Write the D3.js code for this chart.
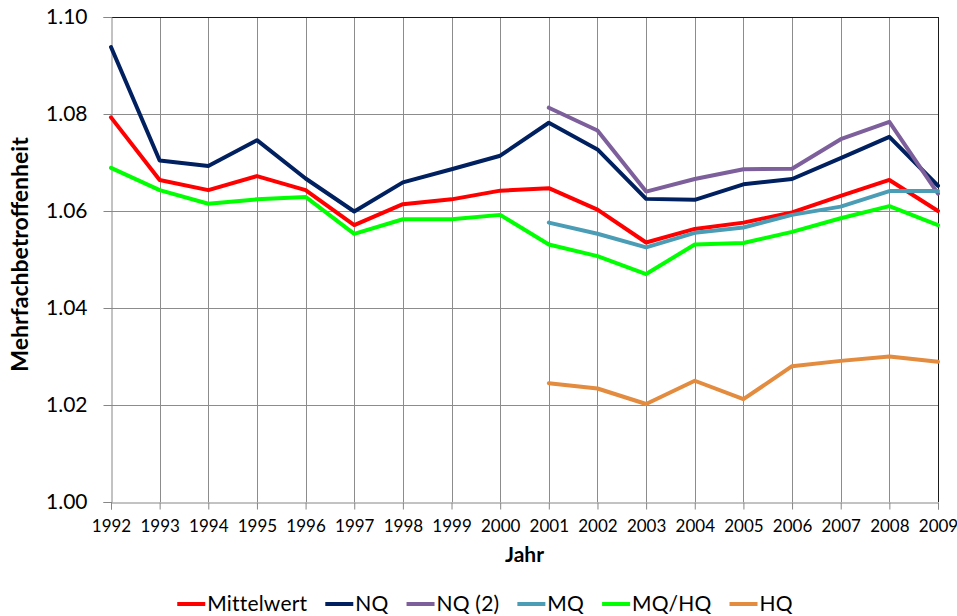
<!DOCTYPE html>
<html>
<head>
<meta charset="utf-8">
<script src="https://cdn.jsdelivr.net/npm/d3@7"></script>
<style>
  html, body { margin: 0; padding: 0; background: #ffffff; }
  svg { display: block; }
  text { font-family: "Lato", "Open Sans", sans-serif; fill: #000; }
</style>
</head>
<body>
<svg id="chart" width="957" height="616"></svg>
<script>
const years = [1992,1993,1994,1995,1996,1997,1998,1999,2000,2001,2002,2003,2004,2005,2006,2007,2008,2009];
const yTicks = [1.00, 1.02, 1.04, 1.06, 1.08, 1.10];
const seriesNames = ["Mittelwert", "NQ", "NQ (2)", "MQ", "MQ/HQ", "HQ"];
const seriesColors = ["#ff0000", "#002060", "#7d5f9b", "#4b9db6", "#00ff00", "#e38b3f"];

const mittelwert = [1.0793,1.0664,1.0643,1.0672,1.0643,1.0571,1.0614,1.0624,1.0642,1.0647,1.0603,1.0535,1.0563,1.0576,1.0597,1.0631,1.0664,1.0600];
const nq = [1.0938,1.0704,1.0693,1.0746,1.0667,1.0599,1.0659,1.0686,1.0714,1.0782,1.0727,1.0625,1.0623,1.0655,1.0666,1.0709,1.0753,1.0652];
const nq2 = [null,null,null,null,null,null,null,null,null,1.0813,1.0766,1.0640,1.0666,1.0686,1.0687,1.0748,1.0784,1.0636];
const mq = [null,null,null,null,null,null,null,null,null,1.0576,1.0553,1.0525,1.0555,1.0566,1.0592,1.0609,1.0641,1.0641];
const mqhq = [1.0689,1.0643,1.0615,1.0624,1.0629,1.0553,1.0583,1.0583,1.0592,1.0531,1.0507,1.0470,1.0531,1.0534,1.0557,1.0585,1.0610,1.0571];
const hq = [null,null,null,null,null,null,null,null,null,1.0245,1.0234,1.0202,1.0250,1.0212,1.0280,1.0291,1.0300,1.0289];

const seriesValues = [mittelwert, nq, nq2, mq, mqhq, hq];

const svg = d3.select("#chart");
const pLeft = 111, pRight = 938, pTop = 17, pBottom = 502;

const x = d3.scaleLinear().domain([years[0], years[years.length - 1]]).range([pLeft, pRight]);
const y = d3.scaleLinear().domain([1.00, 1.10]).range([pBottom, pTop]);

const gridColor = "#8c8c8c";

// horizontal gridlines
svg.append("g").selectAll("line").data(yTicks.slice(1, -1)).join("line")
  .attr("x1", pLeft).attr("x2", pRight)
  .attr("y1", d => Math.round(y(d)) + 0.5).attr("y2", d => Math.round(y(d)) + 0.5)
  .attr("stroke", gridColor).attr("stroke-width", 1);

// vertical gridlines
svg.append("g").selectAll("line").data(years.slice(1, -1)).join("line")
  .attr("x1", d => Math.round(x(d)) + 0.5).attr("x2", d => Math.round(x(d)) + 0.5)
  .attr("y1", pTop).attr("y2", pBottom)
  .attr("stroke", gridColor).attr("stroke-width", 1);

// top and right borders
svg.append("line").attr("x1", pLeft).attr("x2", pRight + 0.5).attr("y1", pTop + 0.5).attr("y2", pTop + 0.5)
  .attr("stroke", "#1a1a1a").attr("stroke-width", 1);
svg.append("line").attr("x1", pRight + 0.5).attr("x2", pRight + 0.5).attr("y1", pTop).attr("y2", pBottom)
  .attr("stroke", "#1a1a1a").attr("stroke-width", 1);

// y axis
const yAxis = d3.axisLeft(y).tickValues(yTicks).tickFormat(d3.format(".2f")).tickSize(8).tickPadding(16);
const gy = svg.append("g").attr("transform", `translate(${pLeft + 0.5},0)`).call(yAxis);
gy.select(".domain").attr("stroke", "#868686");
gy.selectAll(".tick line").attr("stroke", "#868686");
gy.selectAll(".tick text").style("font-size", "21px").attr("fill", "#000");

// x axis
const xAxis = d3.axisBottom(x).tickValues(years).tickFormat(d3.format("d")).tickSize(7).tickPadding(10);
const gx = svg.append("g").attr("transform", `translate(0,${pBottom + 0.5})`).call(xAxis);
gx.select(".domain").attr("stroke", "#868686");
gx.selectAll(".tick line").attr("stroke", "#868686");
gx.selectAll(".tick text").style("font-size", "17px").attr("fill", "#000");

// lines
const line = d3.line()
  .defined(d => d.v !== null)
  .x(d => x(d.year))
  .y(d => y(d.v));

seriesNames.forEach((name, i) => {
  const pts = years.map((yr, j) => ({ year: yr, v: seriesValues[i][j] }));
  svg.append("path")
    .datum(pts)
    .attr("d", line)
    .attr("fill", "none")
    .attr("stroke", seriesColors[i])
    .attr("stroke-width", 4)
    .attr("stroke-linejoin", "round")
    .attr("stroke-linecap", "round");
});

// axis titles
svg.append("text")
  .attr("x", (pLeft + pRight) / 2).attr("y", 562)
  .attr("text-anchor", "middle")
  .style("font-size", "21px").style("font-weight", "bold")
  .text("Jahr");

svg.append("text")
  .attr("transform", `translate(28,${(pTop + pBottom) / 2 - 5}) rotate(-90)`)
  .attr("text-anchor", "middle")
  .style("font-size", "23px").style("font-weight", "bold")
  .text("Mehrfachbetroffenheit");

// legend
const legend = svg.append("g");
const items = legend.selectAll("g").data(seriesNames).join("g");
items.append("line")
  .attr("x1", 0).attr("x2", 28).attr("y1", 0).attr("y2", 0)
  .attr("stroke", (d, i) => seriesColors[i]).attr("stroke-width", 4);
items.append("text")
  .attr("x", 30).attr("y", 7)
  .style("font-size", "21px")
  .style("letter-spacing", "0.2px")
  .text(d => d);

let cursor = 0;
const gap = 18;
const offsets = [];
items.each(function() {
  const w = d3.select(this).select("text").node().getComputedTextLength();
  offsets.push(cursor);
  cursor += 30 + w + gap;
});
const total = cursor - gap;
const startX = 485 - total / 2;
items.attr("transform", (d, i) => `translate(${startX + offsets[i]},604)`);
</script>
</body>
</html>
